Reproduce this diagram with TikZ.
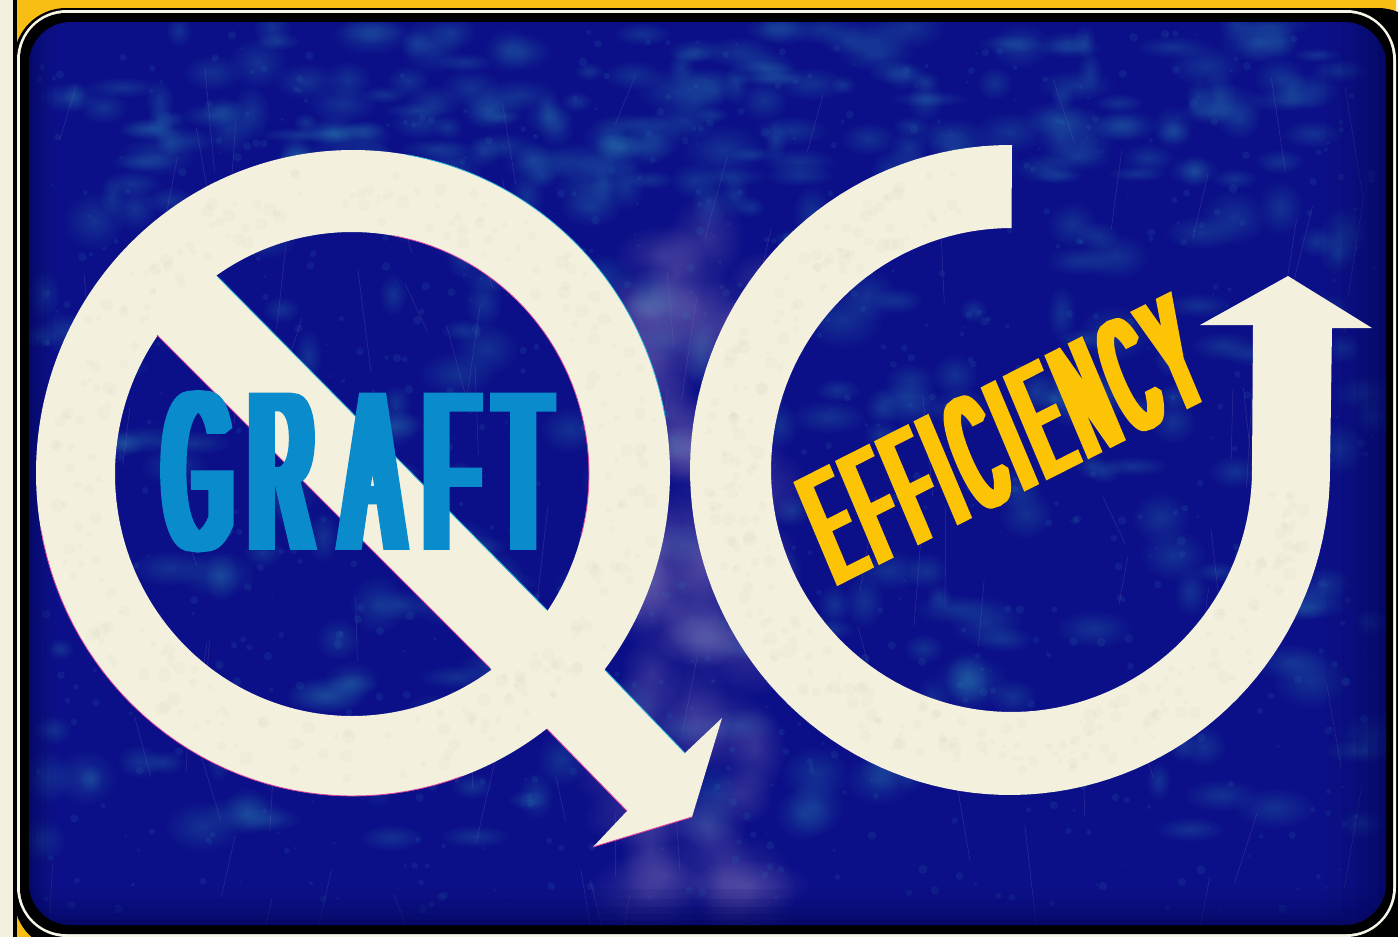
\documentclass[tikz,border=0pt]{standalone}
\usepackage{graphicx}
\usepackage{fontspec}
\usetikzlibrary{fadings}
\newfontfamily\graftfont[FakeStretch=.0375,FakeBold=.8]{Liberation Sans}
\newfontfamily\efffont[FakeStretch=.034,FakeBold=.72]{Liberation Sans}
\definecolor{frameyellow}{HTML}{F9BE14}
\definecolor{cream}{HTML}{F4F0DE}
\definecolor{navy}{HTML}{0C1088}
\definecolor{deepnavy}{HTML}{06085E}
\definecolor{mottle}{HTML}{2A80B0}
\definecolor{scuff}{HTML}{8A78B8}
\definecolor{graftblue}{HTML}{0A8CCC}
\definecolor{effyellow}{HTML}{FCC404}
\definecolor{fringem}{HTML}{E0409A}
\definecolor{fringec}{HTML}{20B0D8}
\tikzfading[name=softblob,inner color=transparent!70,outer color=transparent!100]
\tikzset{
  lettering/.style={inner sep=0pt,outer sep=0pt,anchor=base west},
  sign/.style={fill=cream,draw=none},
}
\pgfmathsetseed{4217}
\begin{document}
\begin{tikzpicture}[x=1pt,y=-1pt]
\useasboundingbox (0,0) rectangle (1398,937);
% surround
\fill[frameyellow] (0,0) rectangle (1398,937);
\fill[cream] (0,0) rectangle (13,937);
\fill[cream] (1396,0) rectangle (1398,150);
% frame bands
\fill[black,rounded corners=52pt] (14,8) rectangle (1430,950);
\fill[black] (13,0) rectangle (17,937);
\fill[cream!70!white,rounded corners=50pt] (17,10) rectangle (1396,937);
\fill[black,rounded corners=46pt] (20,13) rectangle (1393,934);
% blue panel
\fill[navy,rounded corners=42pt] (29,22) rectangle (1386,925);
\begin{scope}
\clip[rounded corners=42pt] (29,22) rectangle (1386,925);
\foreach \i in {1,...,280}{
  \pgfmathsetmacro{\bx}{705+670*rand}
  \pgfmathsetmacro{\by}{440+400*rand}
  \pgfmathsetmacro{\br}{12+30*rnd}
  \pgfmathsetmacro{\brr}{10+20*rnd}
  \fill[mottle,path fading=softblob] (\bx,\by) ellipse [x radius=\br pt,y radius=\brr pt];
}
\foreach \i in {1,...,130}{
  \pgfmathsetmacro{\bx}{720+620*rand}
  \pgfmathsetmacro{\by}{105+80*rand}
  \pgfmathsetmacro{\br}{12+30*rnd}
  \pgfmathsetmacro{\brr}{7+16*rnd}
  \fill[mottle,path fading=softblob] (\bx,\by) ellipse [x radius=\br pt,y radius=\brr pt];
}
\foreach \i in {1,...,55}{
  \pgfmathsetmacro{\bx}{700+70*rand}
  \pgfmathsetmacro{\by}{560+340*rand}
  \pgfmathsetmacro{\br}{25+40*rnd}
  \pgfmathsetmacro{\brr}{25+35*rnd}
  \fill[scuff,path fading=softblob] (\bx,\by) ellipse [x radius=\br pt,y radius=\brr pt];
}
\foreach \i in {1,...,900}{
  \pgfmathsetmacro{\bx}{705+670*rand}
  \pgfmathsetmacro{\by}{470+440*rand}
  \pgfmathsetmacro{\br}{1+3.5*rnd}
  \fill[mottle,fill opacity=.14] (\bx,\by) circle[radius=\br pt];
}
\foreach \i in {1,...,90}{
  \pgfmathsetmacro{\bx}{705+660*rand}
  \pgfmathsetmacro{\by}{470+430*rand}
  \pgfmathsetmacro{\dx}{-25+50*rnd}
  \pgfmathsetmacro{\dy}{40+70*rnd}
  \draw[scuff,draw opacity=.28,line width=.5pt] (\bx,\by) -- ++(\dx,\dy);
}
% darker rims
\foreach \w/\o in {8/.30,18/.25,30/.20,44/.15,60/.10}{
  \fill[deepnavy,fill opacity=\o] (1386,0) rectangle ({1386-\w},937);
  \fill[deepnavy,fill opacity=\o] (0,925) rectangle (1398,{925-\w*.6});
  \fill[deepnavy,fill opacity=\o] (29,0) rectangle ({29+\w*.4},937);
}
\end{scope}
% Q: ring, bar and arrow
\fill[sign,even odd rule] plot[smooth cycle,samples=120,domain=0:357] ({353+317*cos(\x)},{473-323*sin(\x)})
  plot[smooth cycle,samples=120,domain=0:357] ({352+237*cos(\x)},{474-242*sin(\x)});
\fill[sign] (200,259) -- (218,277) -- (547,610) -- (605,670) -- (685,753) -- (722,718) -- (692,817) -- (593,847) -- (627,811) -- (547,729) -- (490,668) -- (157,335) -- (140,318) -- cycle;
% C: open ring running into the up arrow
\fill[sign] plot[samples=110,domain=90:360] ({1010+320*cos(\x)},{470-325*sin(\x)})
  -- (1332,328) -- (1372,328) -- (1288,276) -- (1200,325) -- (1253,325) -- (1252,470)
  -- plot[samples=110,domain=360:90] ({1011.5+240.5*cos(\x)},{470-242*sin(\x)}) -- (1012,145) -- cycle;
% ring mottling
\foreach \cx/\cy in {353/473,1012/470}{
  \foreach \i in {1,...,260}{
    \pgfmathsetmacro{\ba}{(\cx>800 ? 100+255*rnd : 360*rnd)}
    \pgfmathsetmacro{\brad}{252+54*rnd}
    \pgfmathsetmacro{\br}{2+5*rnd}
    \fill[gray,fill opacity=.035] ({\cx+\brad*cos(\ba)},{\cy-\brad*sin(\ba)}) circle[radius=\br pt];
  }
}
% printing fringes
\draw[fringem,line width=.9pt] (157,335) -- (490,668);
\draw[fringem,line width=.9pt] (547,729) -- (627,811);
\draw[fringem,line width=.9pt] (593,847) -- (692,817);
\draw[fringec,line width=.9pt] (218,277) -- (547,610);
\draw[fringec,line width=.9pt] (605,670) -- (685,753);
\draw[fringem,line width=.8pt] plot[samples=40,domain=190:290] ({353+317*cos(\x)},{473-323*sin(\x)});
\draw[fringem,line width=.8pt] plot[samples=40,domain=-15:80] ({352+237*cos(\x)},{474-242*sin(\x)});
\draw[fringec,line width=.8pt] plot[samples=40,domain=10:80] ({353+317*cos(\x)},{473-323*sin(\x)});
% lettering
\node[lettering,text=graftblue] (graft) at (165,549) {\scalebox{10}[1]{\fontsize{226}{226}\graftfont G\kern2pt R\kern3.2pt A\kern2.5pt F\kern2pt T}};
\node[lettering,text=effyellow,rotate=26.8,xslant=.07] (efficiency) at (838,585) {\scalebox{10}[1]{\fontsize{162}{162}\efffont E\kern1pt F\kern1pt F\kern1pt I\kern1pt C\kern1pt I\kern1pt E\kern1pt N\kern1pt C\kern1pt Y}};
\end{tikzpicture}
\end{document}
